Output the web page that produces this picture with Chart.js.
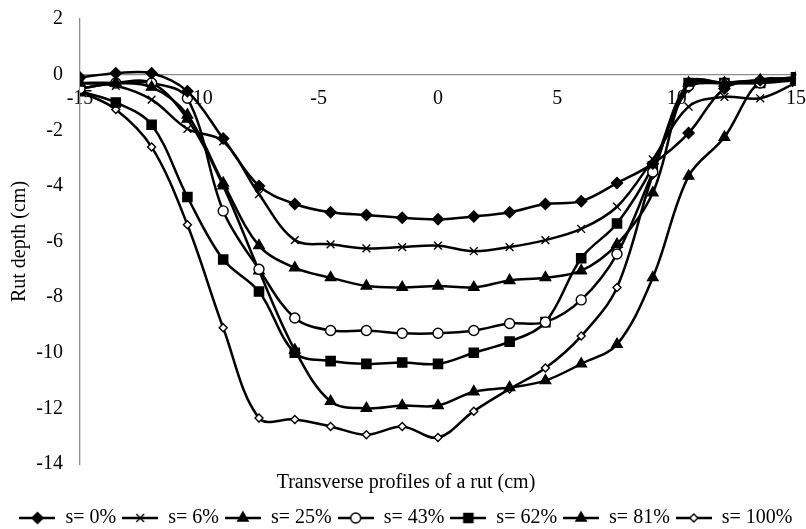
<!DOCTYPE html>
<html>
<head>
<meta charset="utf-8">
<script src="https://cdn.jsdelivr.net/npm/chart.js@4/dist/chart.umd.min.js"></script>
<style>
  html, body { margin: 0; padding: 0; background: #fff; }
  #wrap { width: 806px; height: 529px; }
</style>
</head>
<body>
<div id="wrap"><canvas id="c" width="806" height="529"></canvas></div>
<script>
// Transverse position across the rut (cm)
const positions = [-15, -13.5, -12, -10.5, -9, -7.5, -6, -4.5, -3, -1.5, 0, 1.5, 3, 4.5, 6, 7.5, 9, 10.5, 12, 13.5, 15];

// Rut depth (cm) for each saturation level
const s0   = [-0.1, 0.05, 0.05, -0.6, -2.3, -4.0, -4.65, -4.95, -5.05, -5.15, -5.2, -5.1, -4.95, -4.65, -4.55, -3.9, -3.2, -2.1, -0.5, -0.2, -0.1];
const s6   = [-0.3, -0.4, -0.9, -1.95, -2.4, -4.3, -5.95, -6.1, -6.25, -6.2, -6.15, -6.35, -6.2, -5.95, -5.55, -4.75, -3.05, -1.15, -0.8, -0.85, -0.3];
const s25  = [-0.3, -0.3, -0.45, -1.45, -3.9, -6.15, -6.95, -7.3, -7.6, -7.65, -7.6, -7.65, -7.4, -7.3, -7.05, -6.1, -4.25, -0.3, -0.3, -0.2, -0.2];
const s43  = [-0.5, -0.3, -0.3, -0.85, -4.9, -7.0, -8.75, -9.2, -9.2, -9.3, -9.3, -9.2, -8.95, -8.9, -8.1, -6.45, -3.5, -0.4, -0.3, -0.3, -0.2];
const s62  = [-0.6, -1.0, -1.8, -4.4, -6.65, -7.8, -10.0, -10.3, -10.4, -10.35, -10.4, -10.0, -9.6, -8.9, -6.6, -5.35, -3.3, -0.3, -0.3, -0.3, -0.1];
const s81  = [-0.5, -0.3, -0.3, -1.6, -4.0, -7.05, -9.9, -11.75, -12.0, -11.9, -11.9, -11.4, -11.25, -11.0, -10.4, -9.7, -7.3, -3.65, -2.25, -0.25, -0.2];
const s100 = [-0.6, -1.25, -2.6, -5.4, -9.1, -12.35, -12.4, -12.65, -12.95, -12.65, -13.05, -12.1, -11.3, -10.55, -9.4, -7.65, -3.6, -0.5, -0.3, -0.2, -0.1];

const seriesNames = ['s= 0%', 's= 6%', 's= 25%', 's= 43%', 's= 62%', 's= 81%', 's= 100%'];
const xTickValues = [-15, -10, -5, 0, 5, 10, 15];
const yTickValues = [2, 0, -2, -4, -6, -8, -10, -12, -14];

const FONT = '"Liberation Serif", "Times New Roman", serif';

// marker look per series: [pointStyle, radius, filled]
const markers = [
  ['rectRot', 5.5, true],
  ['crossRot', 5.5, false],
  ['triangle', 6, true],
  ['circle', 5, false],
  ['rect', 6.5, true],
  ['triangle', 6, true],
  ['rectRot', 4, false]
];

const seriesValues = [s0, s6, s25, s43, s62, s81, s100];

// small legend glyphs: a line segment with the series marker in its middle
function legendGlyph(style, radius, filled) {
  const cv = document.createElement('canvas');
  cv.width = 36; cv.height = 16;
  const ctx = cv.getContext('2d');
  ctx.strokeStyle = '#000';
  ctx.lineWidth = 2.5;
  ctx.beginPath(); ctx.moveTo(0, 8); ctx.lineTo(36, 8); ctx.stroke();
  ctx.fillStyle = filled ? '#000' : '#fff';
  ctx.lineWidth = 1.4;
  Chart.helpers.drawPoint(ctx, { pointStyle: style, radius: radius, rotation: 0, borderWidth: 1.4 }, 18, 8);
  return cv;
}
const glyphs = markers.map(m => legendGlyph(m[0], m[1], m[2]));

const datasets = seriesValues.map((vals, i) => ({
  label: seriesNames[i],
  data: positions.map((x, k) => ({ x: x, y: vals[k] })),
  borderColor: '#000',
  borderWidth: 2.5,
  tension: 0.35,
  pointStyle: markers[i][0],
  pointRadius: markers[i][1],
  pointBackgroundColor: markers[i][2] ? '#000' : '#fff',
  pointBorderColor: '#000',
  pointBorderWidth: 1.4,
  fill: false
}));

new Chart(document.getElementById('c'), {
  type: 'line',
  data: { datasets: datasets },
  options: {
    responsive: false,
    animation: false,
    devicePixelRatio: 1,
    layout: { padding: { left: 8, right: 2, top: 0, bottom: -9 } },
    scales: {
      x: {
        type: 'linear',
        min: -15, max: 15,
        position: { y: 0 },
        afterBuildTicks: s => { s.ticks = xTickValues.map(v => ({ value: v })); },
        afterFit: s => { s.paddingLeft = 0; s.paddingRight = 10; },
        grid: { drawOnChartArea: false, drawTicks: false },
        border: { display: true, color: '#8c8c8c', width: 1.3 },
        ticks: { color: '#000', font: { family: FONT, size: 20 }, padding: 12, maxRotation: 0 }
      },
      y: {
        type: 'linear',
        min: -14, max: 2,
        afterBuildTicks: s => { s.ticks = yTickValues.map(v => ({ value: v })); },
        afterFit: s => { s.width = 72; s.paddingTop = 19; s.paddingBottom = 0; },
        grid: { drawOnChartArea: false, drawTicks: false },
        border: { display: true, color: '#8c8c8c', width: 1.3 },
        ticks: { color: '#000', font: { family: FONT, size: 20 }, padding: 17 },
        title: { display: true, text: 'Rut depth (cm)', color: '#000', font: { family: FONT, size: 20 }, padding: { top: 0, bottom: 2 } }
      }
    },
    plugins: {
      title: {
        display: true,
        position: 'bottom',
        weight: 500,
        text: 'Transverse profiles of a rut (cm)',
        color: '#000',
        font: { family: FONT, size: 20, weight: 'normal' },
        padding: { top: 7, bottom: 7 }
      },
      legend: {
        position: 'bottom',
        labels: {
          usePointStyle: true,
          pointStyleWidth: 36,
          boxHeight: 16,
          padding: 6,
          color: '#000',
          font: { family: FONT, size: 20 },
          generateLabels: chart => {
            const items = Chart.defaults.plugins.legend.labels.generateLabels(chart);
            items.forEach((it, i) => { it.pointStyle = glyphs[i]; });
            return items;
          }
        }
      },
      tooltip: { enabled: false }
    }
  }
});
</script>
</body>
</html>
